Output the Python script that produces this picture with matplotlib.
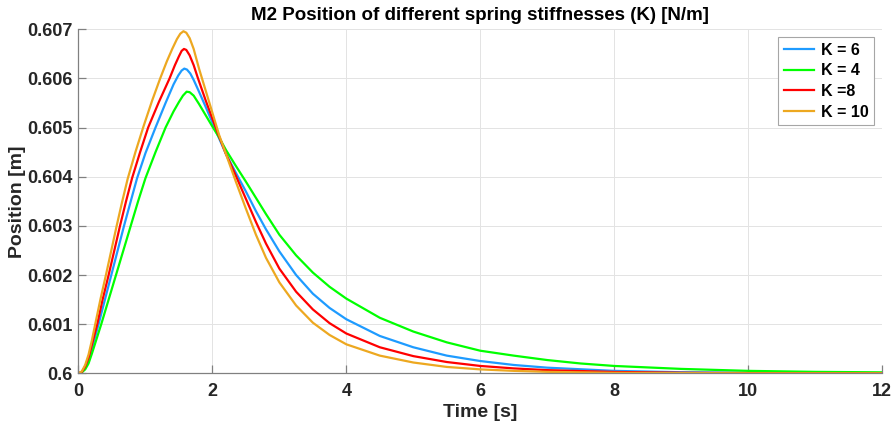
import matplotlib
matplotlib.use("Agg")
import matplotlib.pyplot as plt

plt.rcParams['font.family'] = ['Liberation Sans', 'DejaVu Sans']

# K = 6 (blue)
t_k6 = [0, 0.05, 0.1, 0.15, 0.2, 0.30, 0.395, 0.49, 0.585, 0.68, 0.78, 0.875, 1.0, 1.15,
        1.3, 1.42, 1.49, 1.54, 1.58, 1.62, 1.67, 1.72, 1.8, 1.9, 2.0, 2.1, 2.2, 2.35, 2.5,
        2.65, 2.8, 3.0, 3.25, 3.5, 3.75, 4.0, 4.5, 5.0, 5.5, 6.0, 6.5, 7.0, 8.0, 9.0,
        10.0, 11.0, 12.0]
pos_k6 = [0.6, 0.600025, 0.60011, 0.60027, 0.6005, 0.601, 0.6015, 0.602, 0.6025, 0.603,
          0.6035, 0.60397, 0.60448, 0.605, 0.6055, 0.60588, 0.60606, 0.60616, 0.6062, 0.60618,
          0.6061, 0.60597, 0.60573, 0.60542, 0.6051, 0.60478, 0.60447, 0.60408, 0.6037,
          0.6033, 0.60293, 0.60248, 0.602, 0.60162, 0.60133, 0.6011, 0.60076, 0.60053,
          0.60036, 0.60025, 0.60017, 0.600115, 0.60005, 0.600022, 0.60001, 0.600004, 0.600002]

# K = 4 (green)
t_k4 = [0, 0.05, 0.1, 0.15, 0.2, 0.27, 0.34, 0.45, 0.56, 0.67, 0.78, 0.89, 1.0, 1.15,
        1.30, 1.42, 1.50, 1.56, 1.615, 1.66, 1.72, 1.8, 1.9, 2.0, 2.1, 2.2, 2.35, 2.5,
        2.65, 2.8, 3.0, 3.25, 3.5, 3.75, 4.0, 4.5, 5.0, 5.5, 6.0, 6.5, 7.0, 7.5, 8.0,
        9.0, 10.0, 11.0, 12.0]
pos_k4 = [0.6, 0.60002, 0.60008, 0.6002, 0.6004, 0.6007, 0.601, 0.6015, 0.602, 0.6025,
          0.603, 0.6035, 0.60397, 0.6045, 0.605, 0.60533, 0.60552, 0.60565, 0.60573,
          0.60572, 0.60565, 0.60548, 0.60525, 0.60502, 0.6048, 0.60455, 0.60422, 0.6039,
          0.60357, 0.60324, 0.60282, 0.6024, 0.60205, 0.60176, 0.60152, 0.60113, 0.60085,
          0.60063, 0.60046, 0.60036, 0.60027, 0.6002, 0.60015, 0.60009, 0.60005, 0.60003,
          0.60002]

# K = 8 (red)
t_k8 = [0, 0.05, 0.1, 0.15, 0.2, 0.28, 0.36, 0.45, 0.535, 0.62, 0.71, 0.80, 0.92, 1.04,
        1.2, 1.36, 1.44, 1.50, 1.54, 1.575, 1.61, 1.66, 1.72, 1.78, 1.9, 2.0, 2.1, 2.2,
        2.35, 2.5, 2.65, 2.8, 3.0, 3.25, 3.5, 3.75, 4.0, 4.5, 5.0, 5.5, 6.0, 6.5, 7.0,
        8.0, 9.0, 10.0, 11.0, 12.0]
pos_k8 = [0.6, 0.60003, 0.60014, 0.60032, 0.60058, 0.601, 0.6015, 0.602, 0.6025, 0.603,
          0.6035, 0.60397, 0.6045, 0.605, 0.60552, 0.606, 0.60627, 0.60645, 0.60656, 0.6066,
          0.60658, 0.60647, 0.60627, 0.60602, 0.60555, 0.60518, 0.60482, 0.60447, 0.60402,
          0.60355, 0.60308, 0.60264, 0.60213, 0.60166, 0.6013, 0.60102, 0.60081, 0.60053,
          0.60035, 0.60023, 0.60015, 0.6001, 0.600065, 0.600028, 0.600012, 0.600005,
          0.600002, 0.600001]

# K = 10 (orange)
t_k10 = [0, 0.05, 0.1, 0.15, 0.2, 0.25, 0.33, 0.41, 0.49, 0.57, 0.65, 0.735, 0.85, 0.97,
         1.1, 1.22, 1.32, 1.40, 1.47, 1.52, 1.567, 1.61, 1.66, 1.72, 1.80, 1.9, 2.0, 2.1,
         2.2, 2.35, 2.5, 2.65, 2.8, 3.0, 3.25, 3.5, 3.75, 4.0, 4.5, 5.0, 5.5, 6.0, 6.5,
         7.0, 8.0, 9.0, 10.0, 12.0]
pos_k10 = [0.6, 0.60004, 0.60017, 0.60038, 0.60067, 0.601, 0.60152, 0.602, 0.6025, 0.603,
           0.60348, 0.60396, 0.6045, 0.60502, 0.60555, 0.606, 0.60635, 0.6066, 0.6068,
           0.60691, 0.60696, 0.60693, 0.60682, 0.6066, 0.6062, 0.60575, 0.6053, 0.60485,
           0.60447, 0.6039, 0.60335, 0.60282, 0.60235, 0.60185, 0.60138, 0.60103, 0.60078,
           0.60059, 0.60036, 0.60022, 0.60013, 0.60008, 0.60005, 0.60003, 0.60001,
           0.600004, 0.600001, 0.6]

labels = ['K = 6', 'K = 4', 'K =8', 'K = 10']
colors = ['#1E9BFF', '#00FF00', '#FF0000', '#EDA820']

x_ticks = [0, 2, 4, 6, 8, 10, 12]
y_ticks = [0.6, 0.601, 0.602, 0.603, 0.604, 0.605, 0.606, 0.607]
y_tick_labels = ['0.6', '0.601', '0.602', '0.603', '0.604', '0.605', '0.606', '0.607']

fig = plt.figure(figsize=(8.95, 4.25), dpi=100)
ax = fig.add_axes([0.0877, 0.1216, 0.8978, 0.8095])

series = [(t_k6, pos_k6), (t_k4, pos_k4), (t_k8, pos_k8), (t_k10, pos_k10)]
for (t, p), lab, col in zip(series, labels, colors):
    ax.plot(t, p, color=col, linewidth=1.6, label=lab, solid_joinstyle='round')

ax.set_xlim(0, 12)
ax.set_ylim(0.6, 0.607)
ax.set_xticks(x_ticks)
ax.set_xticklabels([str(v) for v in x_ticks])
ax.set_yticks(y_ticks)
ax.set_yticklabels(y_tick_labels)

ax.grid(True, color='#e3e3e3', linewidth=0.7)
ax.set_axisbelow(True)
for s in ['top', 'right']:
    ax.spines[s].set_visible(False)
for s in ['left', 'bottom']:
    ax.spines[s].set_color('#808080')
    ax.spines[s].set_linewidth(0.9)
ax.tick_params(direction='in', length=6, width=0.9, color='#808080',
               labelsize=13, labelcolor='#262626')
ax.tick_params(axis='x', pad=7)
ax.tick_params(axis='y', pad=4)
for lbl in ax.get_xticklabels() + ax.get_yticklabels():
    lbl.set_fontweight('bold')

ax.set_title('M2 Position of different spring stiffnesses (K) [N/m]',
             fontsize=13.5, fontweight='bold', color='#000000', pad=7)
ax.set_xlabel('Time [s]', fontsize=14, fontweight='bold', color='#262626', labelpad=3)
ax.set_ylabel('Position [m]', fontsize=14, fontweight='bold', color='#262626', labelpad=1)

leg = ax.legend(loc='upper right', prop={'weight': 'bold', 'size': 11.5},
                frameon=True, fancybox=False, framealpha=1, edgecolor='#a6a6a6',
                handlelength=1.9, handletextpad=0.4, borderpad=0.35, labelspacing=0.35,
                borderaxespad=0.5)
leg.get_frame().set_linewidth(0.8)

fig.savefig('out.png', dpi=100)
